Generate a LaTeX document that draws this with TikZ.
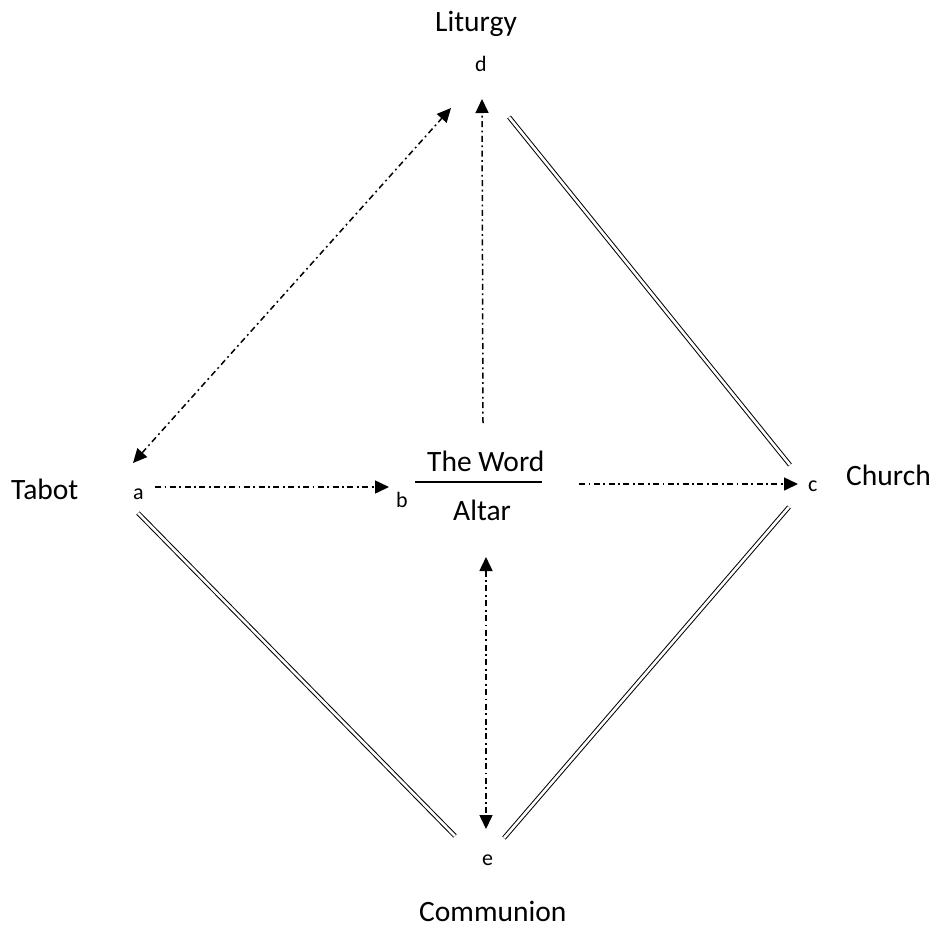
\documentclass[tikz,border=0pt]{standalone}
\usepackage{fontspec}
\setmainfont{Carlito}
\usetikzlibrary{arrows.meta}
\begin{document}
\begin{tikzpicture}[x=1pt,y=-1pt,
  big/.style={inner sep=0pt,anchor=base west,font=\fontsize{29.5}{31}\selectfont},
  small/.style={inner sep=0pt,anchor=base west,font=\fontsize{22}{24}\selectfont},
  dd/.style={line width=1.5pt,dash pattern=on 6pt off 3.5pt on 1.8pt off 3.5pt},
  tip/.style={-{Triangle[length=14pt,width=13pt]}},
  tips/.style={{Triangle[length=14pt,width=13pt]}-{Triangle[length=14pt,width=13pt]}},
  dbl/.style={draw=black,line width=1pt,double=white,double distance=2.6pt}]
\useasboundingbox (0,0) rectangle (932,930);
% labels
\node[big] (liturgy) at (435,31) {Liturgy};
\node[small] (d) at (475,71) {d};
\node[big] (tabot) at (11,499) {Tabot};
\node[small] (a) at (133,499) {a};
\node[small] (b) at (396,507) {b};
\node[big] (word) at (427,471) {The Word};
\node[big] (altar) at (453,520) {Altar};
\node[small] (c) at (808,491) {c};
\node[big] (church) at (846,485) {Church};
\node[small] (e) at (482,865) {e};
\node[big] (communion) at (419,921) {Communion};
% fraction bar
\coordinate (barL) at (415,482);
\coordinate (barR) at (542,482);
\draw[line width=1.6pt] (barL) -- (barR);
% connector end points
\coordinate (ad1) at (133,463);
\coordinate (ad2) at (451,108);
\coordinate (bd1) at (483,423);
\coordinate (bd2) at (482,99);
\coordinate (ab1) at (155,487);
\coordinate (ab2) at (389,487);
\coordinate (bc1) at (579,484);
\coordinate (bc2) at (798,484);
\coordinate (ae1) at (486,557);
\coordinate (ae2) at (486,829);
\coordinate (dc1) at (509,117);
\coordinate (dc2) at (790,465);
\coordinate (ce1) at (789,507);
\coordinate (ce2) at (504,838);
\coordinate (te1) at (138,513);
\coordinate (te2) at (455,836);
% dash-dot arrows
\draw[dd,tips] (ad1) -- (ad2);
\draw[dd,tip] (bd1) -- (bd2);
\draw[dd,tip] (ab1) -- (ab2);
\draw[dd,tip] (bc1) -- (bc2);
\draw[dd,tips] (ae1) -- (ae2);
% double lines
\draw[dbl] (dc1) -- (dc2);
\draw[dbl] (ce1) -- (ce2);
\draw[dbl] (te1) -- (te2);
\end{tikzpicture}
\end{document}
